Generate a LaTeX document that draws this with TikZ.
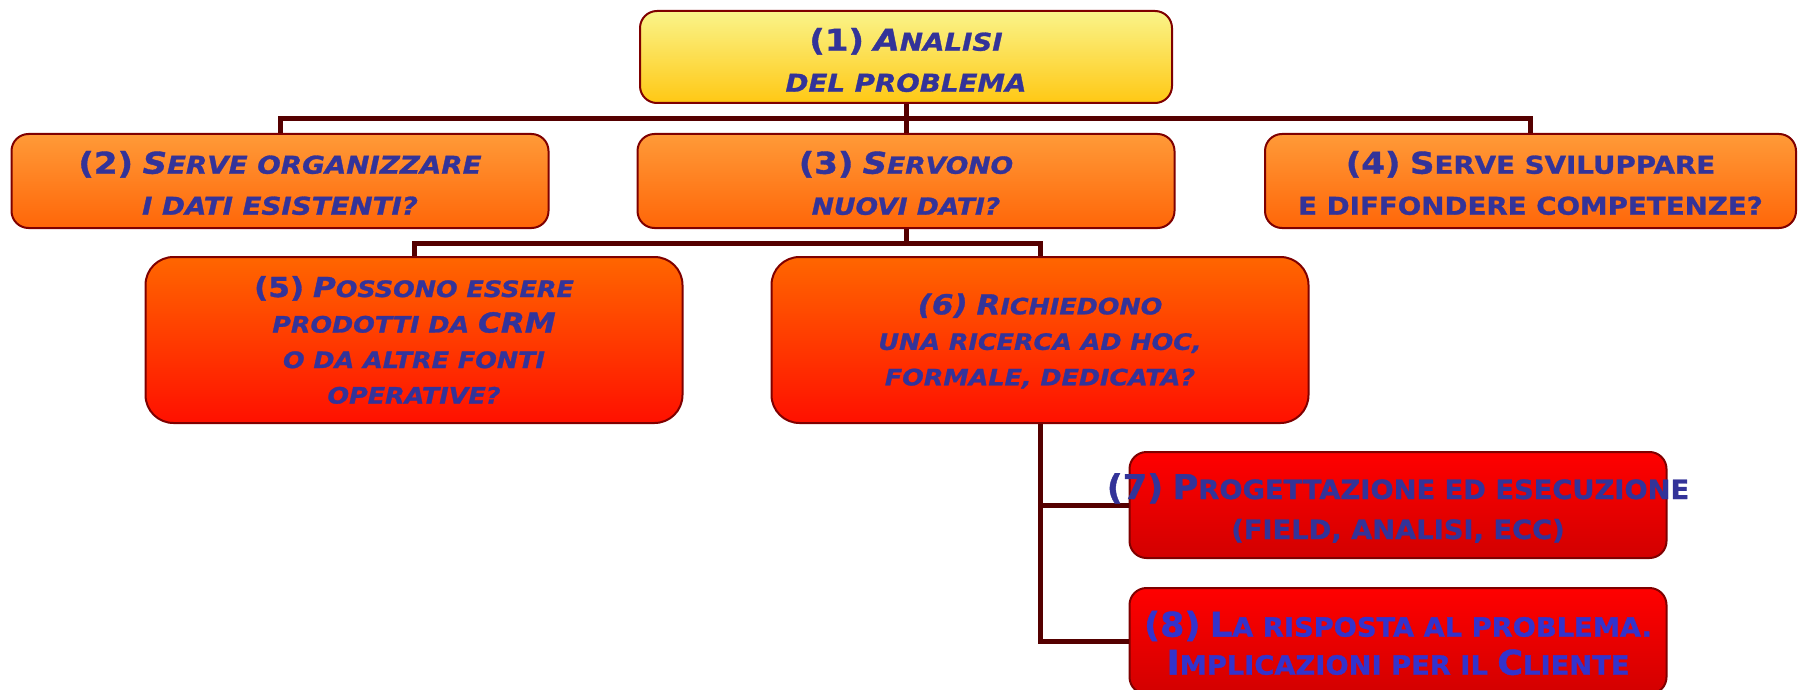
\documentclass[tikz,border=0pt]{standalone}
\usepackage{fontspec}
\newfontfamily\djs[FakeStretch=1.13, FakeBold=1.2]{DejaVu Sans}
\newfontfamily\djc[FakeStretch=1.03, FakeBold=1.2]{DejaVu Sans}
\newcommand\Bg[1]{{\fontsize{30}{40}\selectfont #1}}
\newcommand\Bs[1]{{\fontsize{27.5}{35.5}\selectfont #1}}
\newcommand\Bh[1]{{\fontsize{34}{40}\selectfont #1}}
\definecolor{yellowtop}{HTML}{FAF48A}
\definecolor{yellowbot}{HTML}{FFC814}
\definecolor{orangetop}{HTML}{FF9A38}
\definecolor{orangebot}{HTML}{FF6608}
\definecolor{redortop}{HTML}{FF6600}
\definecolor{redorbot}{HTML}{FF1000}
\definecolor{redtop}{HTML}{FF0000}
\definecolor{redbot}{HTML}{D20000}
\definecolor{boxborder}{HTML}{7F0000}
\definecolor{connc}{HTML}{550000}
\definecolor{txtblue}{HTML}{333399}
\definecolor{txtbright}{HTML}{3333CC}
\tikzset{
  box/.style={draw=boxborder, line width=2pt, rounded corners=17pt, inner sep=0pt},
  yellowbox/.style={box, top color=yellowtop, bottom color=yellowbot, minimum width=532pt, minimum height=92pt},
  orangebox/.style={box, top color=orangetop, bottom color=orangebot, minimum width=537pt, minimum height=94pt},
  redorbox/.style={box, rounded corners=28pt, top color=redortop, bottom color=redorbot, minimum width=537pt, minimum height=166pt},
  redbox/.style={box, top color=redtop, bottom color=redbot, minimum width=537pt, minimum height=106pt},
  txta/.style={font=\djs\bfseries\fontsize{24.5}{41}\selectfont, text=txtblue, align=center, inner sep=0pt},
  txtb/.style={font=\djs\bfseries\fontsize{22.5}{35.5}\selectfont, text=txtblue, align=center, inner sep=0pt},
  txtc/.style={font=\djc\bfseries\fontsize{26.5}{40}\selectfont, text=txtblue, align=center, inner sep=0pt},
  conn/.style={draw=connc, line width=5pt}
}
\begin{document}
\begin{tikzpicture}[x=1pt,y=-1pt]
\useasboundingbox (0,0) rectangle (1798,690);
\node[yellowbox] (b1) at (906,57) {};
\node[orangebox] (b2) at (280,181) {};
\node[orangebox] (b3) at (906,181) {};
\node[orangebox, minimum width=531pt] (b4) at (1530.5,181) {};
\node[redorbox] (b5) at (414,340) {};
\node[redorbox] (b6) at (1040,340) {};
\node[redbox] (b7) at (1398,505) {};
\node[redbox] (b8) at (1398,641) {};
\coordinate (bus1) at (0,119);
\coordinate (bus2) at (0,243);
\draw[conn] (b1.south) -- (b3.north);
\draw[conn] (b2.north) -- (b2.north |- bus1) -- (b4.north |- bus1) -- (b4.north);
\draw[conn] (b3.south) -- (b3.south |- bus2);
\draw[conn] (b5.north) -- (b5.north |- bus2) -- (b6.north |- bus2) -- (b6.north);
\draw[conn] (b6.south) |- (b7.west);
\draw[conn] (b6.south) |- (b8.west);
\node[txta] (t1) at ([yshift=-3pt]b1.center) {\Bg{(1)} \itshape\Bg{A}NALISI\\ \itshape DEL PROBLEMA};
\node[txta] (t2) at ([yshift=-2pt]b2.center) {\Bg{(2)} \itshape\Bg{S}ERVE ORGANIZZARE\\ \itshape I DATI ESISTENTI?};
\node[txta, font=\djs\bfseries\fontsize{23.5}{41}\selectfont] (t3) at ([yshift=-2pt]b3.center) {\Bg{(3)} \itshape\Bg{S}ERVONO\\ \itshape NUOVI DATI?};
\node[txta] (t4) at ([yshift=-2pt]b4.center) {\Bg{(4)} \Bg{S}ERVE SVILUPPARE\\ E DIFFONDERE COMPETENZE?};
\node[txtb] (t5) at (b5.center) {\Bs{(5)} \itshape\Bs{P}OSSONO ESSERE\\ \itshape PRODOTTI DA \Bs{CRM}\\ \itshape O DA ALTRE FONTI\\ \itshape OPERATIVE?};
\node[txtb] (t6) at ([yshift=-1pt]b6.center) {\itshape\Bs{(6)} \Bs{R}ICHIEDONO\\ \itshape UNA RICERCA AD HOC,\\ \itshape FORMALE, DEDICATA?};
\node[txtc] (t7) at ([yshift=-3pt]b7.center) {\Bh{(7)} \Bh{P}ROGETTAZIONE ED ESECUZIONE\\ (FIELD, ANALISI, ECC)};
\node[txtc, text=txtbright, font=\djc\bfseries\fontsize{26.5}{38}\selectfont] (t8) at ([yshift=-2pt]b8.center) {\Bh{(8)} \Bh{L}A RISPOSTA AL PROBLEMA.\\ \Bh{I}MPLICAZIONI PER IL \Bh{C}LIENTE};
\end{tikzpicture}
\end{document}
